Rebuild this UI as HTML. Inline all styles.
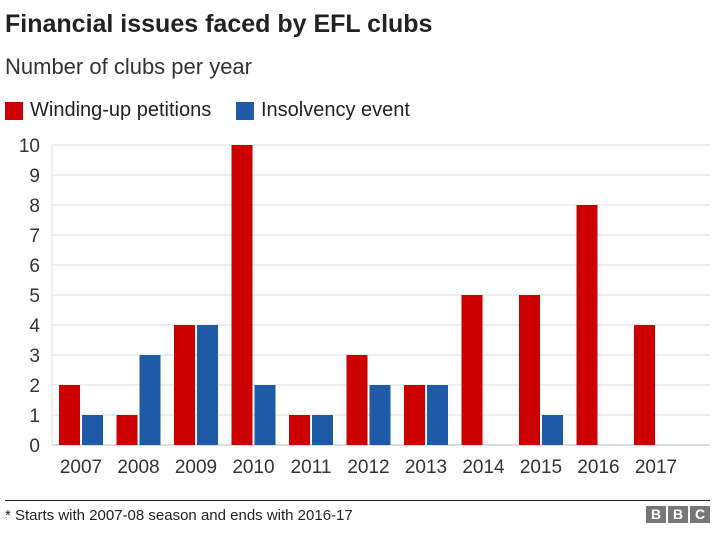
<!DOCTYPE html>
<html><head><meta charset="utf-8"><style>
body{margin:0;width:728px;height:534px;background:#fff;font-family:"Liberation Sans",sans-serif;overflow:hidden;position:relative}
.t{position:absolute;white-space:nowrap;color:#222}
</style></head><body>
<div class="t" style="left:5px;top:10px;font-size:25px;font-weight:bold">Financial issues faced by EFL clubs</div>
<div class="t" style="left:5px;top:54px;font-size:22px;color:#333">Number of clubs per year</div>
<div style="position:absolute;left:5px;top:102px;width:18px;height:18px;background:#c00"></div>
<div class="t" style="left:30px;top:99px;font-size:20px">Winding-up petitions</div>
<div style="position:absolute;left:236px;top:102px;width:18px;height:18px;background:#1f5aa6"></div>
<div class="t" style="left:261px;top:99px;font-size:20px">Insolvency event</div>
<svg id="c" width="728" height="534" style="position:absolute;left:0;top:0"></svg>
<div style="position:absolute;left:5px;top:500px;width:705px;height:1px;background:#222"></div>
<div class="t" style="left:5px;top:507px;font-size:15px">* Starts with 2007-08 season and ends with 2016-17</div>
<div style="position:absolute;left:646px;top:506px;display:flex;gap:2px">
<span style="width:20px;height:17px;background:#777;color:#fff;font-weight:bold;font-size:14px;text-align:center;line-height:17px">B</span>
<span style="width:20px;height:17px;background:#777;color:#fff;font-weight:bold;font-size:14px;text-align:center;line-height:17px">B</span>
<span style="width:20px;height:17px;background:#777;color:#fff;font-weight:bold;font-size:14px;text-align:center;line-height:17px">C</span>
</div>
<script>
const years=["2007","2008","2009","2010","2011","2012","2013","2014","2015","2016","2017"];
const winding=[2,1,4,10,1,3,2,5,5,8,4];
const insolvency=[1,3,4,2,1,2,2,0,1,0,0];
const ticks=[0,1,2,3,4,5,6,7,8,9,10];
const ns="http://www.w3.org/2000/svg",svg=document.getElementById('c');
const y=v=>445-v*30, gx=i=>59+57.5*i;
function mk(t,a){const e=document.createElementNS(ns,t);for(const k in a)e.setAttribute(k,a[k]);svg.appendChild(e);return e;}
ticks.forEach(v=>{
 const l=mk('line',{x1:52,x2:710,y1:y(v),y2:y(v),stroke:v?'#ddd':'#bbb','stroke-width':1});
 
 
 const t=mk('text',{x:40,y:y(v)+7,'text-anchor':'end','font-size':19,fill:'#333','font-family':'Liberation Sans, sans-serif'});
 t.textContent=v;
 
 
});
const ax=mk('line',{x1:52,x2:52,y1:y(10),y2:445,stroke:'#ddd'});


years.forEach((yr,i)=>{
 const r=mk('rect',{x:gx(i),y:y(winding[i]),width:21,height:winding[i]*30,fill:'#c00'});
 
 
 const b=mk('rect',{x:gx(i)+23,y:y(insolvency[i]),width:21,height:insolvency[i]*30,fill:'#1f5aa6'});
 
 
 const t=mk('text',{x:gx(i)+22,y:473,'text-anchor':'middle','font-size':19,fill:'#333','font-family':'Liberation Sans, sans-serif'});
 t.textContent=yr;
 
 
});
</script>
</body></html>
